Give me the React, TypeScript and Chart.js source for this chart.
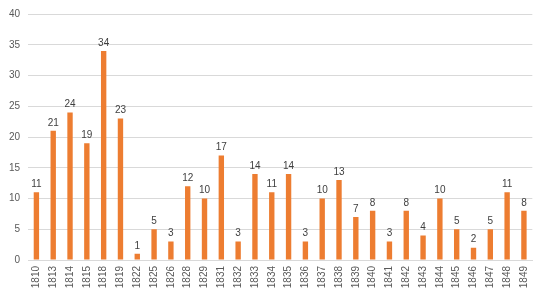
import React, { useEffect, useRef } from "react";
import { Chart, registerables } from "chart.js";

Chart.register(...registerables);

const years = [
  "1810", "1813", "1814", "1815", "1818", "1819", "1822", "1825", "1826", "1828",
  "1829", "1831", "1832", "1833", "1834", "1835", "1836", "1837", "1838", "1839",
  "1840", "1841", "1842", "1843", "1844", "1845", "1846", "1847", "1848", "1849",
];
const counts = [
  11, 21, 24, 19, 34, 23, 1, 5, 3, 12,
  10, 17, 3, 14, 11, 14, 3, 10, 13, 7,
  8, 3, 8, 4, 10, 5, 2, 5, 11, 8,
];
const yMin = 0;
const yMax = 40;
const yStep = 5;

const FONT = "'Liberation Sans', Arial, sans-serif";

const valueLabels = {
  id: "valueLabels",
  afterDatasetsDraw(chart: any) {
    const ctx = chart.ctx;
    const meta = chart.getDatasetMeta(0);
    const data = chart.data.datasets[0].data as number[];
    ctx.save();
    ctx.font = `10px ${FONT}`;
    ctx.fillStyle = "#404040";
    ctx.textAlign = "center";
    ctx.textBaseline = "bottom";
    meta.data.forEach((el: any, i: number) => {
      ctx.fillText(String(data[i]), el.x, el.y - 3);
    });
    ctx.restore();
  },
};

export default function App() {
  const ref = useRef<HTMLCanvasElement>(null);
  useEffect(() => {
    document.body.style.margin = "0";
    const chart = new Chart(ref.current!, {
      type: "bar",
      data: {
        labels: years,
        datasets: [
          {
            data: counts,
            backgroundColor: "#ED7D31",
            barPercentage: 0.32,
            categoryPercentage: 1,
          },
        ],
      },
      options: {
        animation: false,
        responsive: false,
        layout: { padding: { top: 9, right: 4, left: 0, bottom: 0 } },
        plugins: { legend: { display: false }, tooltip: { enabled: false } },
        scales: {
          x: {
            grid: { display: false, drawTicks: false },
            border: { display: true, color: "#D9D9D9" },
            ticks: {
              color: "#595959",
              font: { family: FONT, size: 10 },
              minRotation: 90,
              maxRotation: 90,
              autoSkip: false,
              padding: 6,
            },
            afterFit(scale: any) {
              scale.height = 34;
            },
          },
          y: {
            min: yMin,
            max: yMax,
            grid: { color: "#D9D9D9", drawTicks: false },
            border: { display: false },
            ticks: {
              stepSize: yStep,
              color: "#595959",
              font: { family: FONT, size: 10 },
              padding: 8,
            },
            afterFit(scale: any) {
              scale.width = 28;
            },
          },
        },
      },
      plugins: [valueLabels],
    });
    return () => chart.destroy();
  }, []);
  return <canvas ref={ref} width={542} height={294} style={{ display: "block" }} />;
}
